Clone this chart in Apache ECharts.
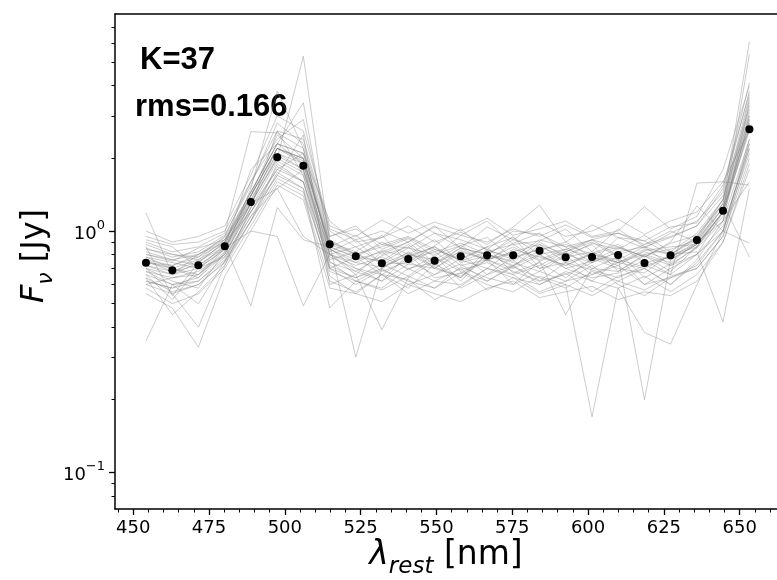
<!DOCTYPE html>
<html><head><meta charset="utf-8">
<script src="https://cdn.jsdelivr.net/npm/echarts@6/dist/echarts.min.js"></script>
<style>html,body{margin:0;padding:0;background:#fff}#c{width:777px;height:580px}</style>
</head><body><div id="c"></div>
<script>
const wavelengths = [454.2, 462.9, 471.5, 480.2, 488.8, 497.5, 506.1, 514.8, 523.4, 532.0, 540.7, 549.4, 558.0, 566.7, 575.3, 584.0, 592.6, 601.3, 609.9, 618.6, 627.2, 635.9, 644.5, 653.2];
const meanFlux = [0.739, 0.687, 0.721, 0.864, 1.32, 2.02, 1.865, 0.881, 0.786, 0.735, 0.766, 0.753, 0.786, 0.793, 0.793, 0.829, 0.778, 0.780, 0.795, 0.737, 0.793, 0.918, 1.214, 2.64];
const spectra = [
  [0.75,0.68,0.72,0.85,1.40,2.20,2.00,0.85,0.70,0.62,0.80,0.92,0.74,0.79,0.95,0.70,0.80,0.88,0.68,0.80,0.74,0.90,1.30,3.00],
  [0.62,0.58,0.66,0.80,1.25,2.60,1.70,0.70,0.78,0.66,0.58,0.73,0.64,0.84,0.76,0.62,0.66,0.74,0.82,0.64,0.73,0.85,1.10,3.40],
  [0.88,0.80,0.78,0.95,1.60,2.40,2.90,0.95,1.05,0.84,0.93,0.78,0.96,1.10,0.88,0.91,1.02,0.82,1.02,0.86,0.94,1.05,1.50,4.10],
  [1.19,0.66,0.80,0.90,1.20,1.80,2.10,1.10,0.90,0.94,1.15,0.98,0.85,1.04,0.92,1.09,0.95,1.00,1.12,0.97,1.10,1.20,1.60,2.60],
  [0.35,0.60,0.50,0.75,1.10,1.90,1.60,0.65,0.55,0.66,0.63,0.52,0.59,0.70,0.66,0.56,0.62,0.72,0.60,0.54,0.64,0.70,0.95,2.20],
  [0.70,0.62,0.58,0.82,1.50,3.80,2.20,0.80,0.66,0.82,0.69,0.79,0.62,0.81,0.71,0.88,0.74,0.62,0.76,0.86,0.72,0.80,1.20,2.90],
  [0.80,0.75,0.85,0.92,1.30,2.00,5.30,0.90,0.82,0.96,0.74,0.87,1.02,0.83,0.78,0.92,0.86,0.74,0.94,0.91,0.80,0.95,1.35,3.20],
  [0.66,0.52,0.70,0.78,1.15,1.50,1.80,0.75,0.62,0.70,0.80,0.64,0.67,0.76,0.60,0.75,0.45,0.70,0.78,0.60,0.70,0.80,1.00,2.40],
  [0.92,0.86,0.70,0.88,0.49,1.25,0.92,0.86,0.96,0.80,0.90,1.05,0.85,0.75,0.89,0.98,0.82,0.92,0.79,0.88,1.00,0.90,1.10,1.60],
  [0.78,0.70,0.64,0.85,1.00,0.95,0.49,0.80,0.68,0.79,0.86,0.70,0.81,0.66,0.78,0.84,0.70,0.75,0.85,0.79,0.68,0.86,1.20,2.80],
  [0.72,0.66,0.74,0.90,1.45,2.30,1.90,0.88,0.30,0.70,0.82,0.71,0.64,0.80,0.74,0.68,0.79,0.66,0.74,0.82,0.76,0.88,1.25,3.50],
  [0.68,0.60,0.62,0.76,1.20,1.70,2.50,0.60,0.66,0.39,0.64,0.75,0.58,0.66,0.72,0.60,0.67,0.56,0.65,0.70,0.60,0.74,1.00,2.10],
  [0.85,0.78,0.82,0.96,1.55,2.80,2.30,1.00,0.86,0.94,1.05,0.90,0.99,0.88,1.04,1.28,0.90,1.06,0.94,0.85,0.98,1.10,1.45,3.80],
  [0.58,0.50,0.55,0.70,1.05,1.60,1.40,0.62,0.56,0.66,0.55,0.62,0.70,0.57,0.64,0.55,0.60,0.17,0.58,0.65,0.56,0.66,0.90,1.90],
  [0.75,0.70,0.76,0.88,1.35,2.10,1.80,0.82,0.92,0.73,0.81,0.70,0.83,0.76,0.86,0.75,0.82,0.90,0.78,0.20,0.76,0.88,1.20,2.70],
  [0.64,0.56,0.60,0.74,1.10,1.75,1.50,0.68,0.62,0.58,0.70,0.62,0.60,0.70,0.64,0.60,0.68,0.62,0.58,0.38,0.34,0.60,1.00,2.30],
  [1.00,0.90,0.95,1.05,1.70,3.00,2.60,1.05,0.95,1.11,0.98,1.09,1.00,1.13,0.96,1.02,1.10,0.95,1.00,1.26,1.02,1.15,1.80,4.00],
  [0.70,0.55,0.40,0.72,1.25,1.95,1.70,0.76,0.82,0.68,0.75,0.66,0.77,0.86,0.67,0.74,0.64,0.77,0.70,0.67,0.80,0.82,0.42,1.50],
  [0.60,0.64,0.68,0.80,1.30,2.20,1.90,0.70,0.64,0.73,0.65,0.78,0.68,0.62,0.72,0.80,0.70,0.64,0.67,0.76,0.66,1.58,1.60,1.55],
  [0.82,0.76,0.72,0.86,1.40,2.50,2.00,0.86,0.78,0.90,0.80,0.76,0.87,0.94,0.77,0.84,0.88,0.80,0.86,0.78,0.90,1.27,1.00,0.89],
  [0.55,0.48,0.33,0.65,1.00,1.55,1.35,0.58,0.55,0.51,0.60,0.55,0.51,0.58,0.62,0.53,0.56,0.59,0.52,0.56,0.54,0.62,0.90,1.80],
  [0.74,0.72,0.80,0.92,1.45,2.30,2.10,0.92,0.80,0.88,0.95,0.84,0.76,0.86,0.94,0.80,0.84,0.92,0.86,0.78,0.89,0.96,1.30,6.10],
  [0.68,0.64,0.66,0.82,1.30,2.00,1.75,0.78,0.70,0.66,0.77,0.82,0.69,0.74,0.66,0.72,0.82,0.70,0.68,0.79,0.72,0.86,1.20,5.40],
  [0.90,0.82,0.86,0.98,2.58,2.55,2.20,0.95,1.02,0.88,0.85,0.98,0.92,0.84,1.00,0.97,0.86,0.92,0.98,0.88,0.95,1.05,1.40,3.30],
  [0.62,0.58,0.62,0.78,1.20,1.85,1.60,0.72,0.64,0.70,0.60,0.66,0.73,0.62,0.71,0.64,0.58,0.68,0.62,0.70,0.60,0.76,1.10,2.40],
  [0.78,0.74,0.70,0.84,1.35,2.10,1.90,0.80,0.86,0.74,0.73,0.84,0.76,0.70,0.84,0.78,0.72,0.81,0.88,0.74,0.78,0.90,1.25,3.00],
  [0.72,0.68,0.75,0.86,1.80,2.30,3.40,0.84,0.76,0.82,0.90,0.74,0.85,0.80,0.72,0.83,0.90,0.78,0.74,0.84,0.80,0.92,1.35,3.60],
  [0.66,0.60,0.64,0.80,1.25,1.80,1.60,0.74,0.68,0.62,0.73,0.70,0.65,0.76,0.68,0.62,0.74,0.69,0.64,0.72,0.66,0.80,1.05,2.20],
  [0.84,0.80,0.76,0.92,1.40,2.20,1.95,0.90,0.80,0.86,0.94,0.82,0.89,0.80,0.92,0.86,0.78,0.89,0.84,0.96,0.82,0.98,1.35,3.10],
  [0.60,0.55,0.60,0.75,1.15,1.70,1.50,0.48,0.62,0.57,0.65,0.58,0.67,0.60,0.56,0.65,0.60,0.54,0.62,0.57,0.65,0.70,0.95,2.00],
  [0.95,0.88,0.90,1.00,1.60,2.60,2.40,1.02,0.92,1.00,0.90,1.04,0.96,0.90,1.02,0.95,1.06,0.94,0.98,0.91,1.04,1.08,1.55,3.70],
  [0.70,0.66,0.70,0.84,1.30,2.05,1.80,0.80,0.72,0.78,0.70,0.74,0.82,0.76,0.70,0.79,0.72,0.80,0.74,0.70,0.79,0.86,1.15,2.70],
  [0.76,0.72,0.78,0.90,1.40,2.20,2.00,0.84,0.74,0.83,0.78,0.86,0.75,0.82,0.88,0.76,0.84,0.78,0.72,0.83,0.86,0.88,1.20,2.90],
  [0.64,0.45,0.56,0.72,1.10,1.65,1.45,0.70,0.60,0.69,0.62,0.58,0.71,0.64,0.60,0.68,0.62,0.66,0.72,0.60,0.64,0.72,1.00,2.30],
  [0.80,0.76,0.80,0.94,1.45,2.30,2.10,0.88,0.80,0.74,0.85,0.80,0.87,0.76,0.82,0.88,0.80,0.74,0.82,0.86,0.80,0.94,1.30,0.78],
  [0.74,0.70,0.66,0.86,1.30,1.50,0.95,0.80,0.74,0.71,0.79,0.86,0.72,0.76,0.81,0.70,0.74,0.80,0.76,0.71,0.79,0.88,1.20,2.60],
  [0.86,0.54,0.74,0.90,1.40,2.20,2.00,0.86,0.78,0.75,0.88,0.72,0.85,0.80,0.75,0.90,0.78,0.82,0.74,0.80,0.84,0.92,1.25,2.80]
];
const xMajorTicks = [450, 475, 500, 525, 550, 575, 600, 625, 650];
const xMinorTicks = [445, 455, 460, 465, 470, 480, 485, 490, 495, 505, 510, 515, 520, 530, 535, 540, 545, 555, 560, 565, 570, 580, 585, 590, 595, 605, 610, 615, 620, 630, 635, 640, 645, 655, 660];
const yMajorTicks = [0.1, 1];
const yMinorTicks = [0.08, 0.09, 0.2, 0.3, 0.4, 0.5, 0.6, 0.7, 0.8, 0.9, 2, 3, 4, 5, 6, 7];
const annotationLines = ['K=37', 'rms=0.166'];

const xMin = 444, xMax = 662.3, yMin = 0.0705, yMax = 7.93;
const lg = v => Math.log10(v);
const axisColor = '#000';
const tickFont = 'DejaVu Sans';

const chart = echarts.init(document.getElementById('c'), null, {renderer: 'canvas'});
const series = spectra.map(s => ({
  type: 'line', xAxisIndex: 0, yAxisIndex: 0,
  data: s.map((v, i) => [wavelengths[i], v]),
  symbol: 'none', showSymbol: false, silent: true,
  lineStyle: {color: 'rgba(128,128,128,0.4)', width: 1}
}));
series.push({
  type: 'scatter', xAxisIndex: 0, yAxisIndex: 0, z: 10,
  data: meanFlux.map((v, i) => [wavelengths[i], v]),
  symbol: 'circle', symbolSize: 8, itemStyle: {color: '#000', opacity: 1}, silent: true
});

chart.setOption({
  animation: false,
  backgroundColor: '#fff',
  grid: {left: 115, right: 0, top: 14, bottom: 71, containLabel: false},
  xAxis: [
    {type: 'value', min: xMin, max: xMax, position: 'bottom',
     axisLine: {show: true, onZero: false, lineStyle: {color: axisColor, width: 1.5}},
     axisTick: {show: true, customValues: xMajorTicks, length: 6, lineStyle: {color: axisColor, width: 1.3}},
     axisLabel: {show: true, customValues: xMajorTicks, fontFamily: tickFont, fontSize: 18, color: '#000', margin: 10},
     splitLine: {show: false}},
    {type: 'value', min: xMin, max: xMax, position: 'bottom',
     axisLine: {show: false, onZero: false},
     axisTick: {show: true, customValues: xMinorTicks, length: 3.5, lineStyle: {color: axisColor, width: 1}},
     axisLabel: {show: false}, splitLine: {show: false}},
    {type: 'value', min: xMin, max: xMax, position: 'top',
     axisLine: {show: true, onZero: false, lineStyle: {color: axisColor, width: 1.5}},
     axisTick: {show: false}, axisLabel: {show: false}, splitLine: {show: false}}
  ],
  yAxis: [
    {type: 'log', min: yMin, max: yMax, position: 'left', logBase: 10,
     axisLine: {show: true, onZero: false, lineStyle: {color: axisColor, width: 1.5}},
     axisTick: {show: false}, axisLabel: {show: false}, splitLine: {show: false}, minorTick: {show: false}},
    {type: 'value', min: lg(yMin), max: lg(yMax), position: 'left',
     axisLine: {show: false, onZero: false},
     axisTick: {show: true, customValues: yMajorTicks.map(lg), length: 6, lineStyle: {color: axisColor, width: 1.3}},
     axisLabel: {show: true, customValues: yMajorTicks.map(lg), margin: 10, color: '#000',
       formatter: v => '{b|10}{s|' + String(Math.round(v)).replace('-', '\u2212') + '}',
       rich: {b: {fontFamily: tickFont, fontSize: 18, lineHeight: 24, verticalAlign: 'bottom'},
              s: {fontFamily: tickFont, fontSize: 13, lineHeight: 24, verticalAlign: 'top', padding: [0, 0, 10, 0]}}},
     splitLine: {show: false}},
    {type: 'value', min: lg(yMin), max: lg(yMax), position: 'left',
     axisLine: {show: false, onZero: false},
     axisTick: {show: true, customValues: yMinorTicks.map(lg), length: 3.5, lineStyle: {color: axisColor, width: 1}},
     axisLabel: {show: false}, splitLine: {show: false}}
  ],
  series: series,
  graphic: [
    {type: 'text', x: 140, y: 45, style: {text: annotationLines[0], font: 'bold 31px "Liberation Sans", Arial, sans-serif', fill: '#000'}},
    {type: 'text', x: 135, y: 92, style: {text: annotationLines[1], font: 'bold 31px "Liberation Sans", Arial, sans-serif', fill: '#000'}},
    {type: 'text', x: 446, y: 559, style: {
      text: '{l|\u03bb}{r|rest}{n| [nm]}', align: 'center', verticalAlign: 'middle',
      rich: {l: {fontFamily: 'DejaVu Sans', fontStyle: 'italic', fontSize: 33, lineHeight: 40, verticalAlign: 'top'},
             r: {fontFamily: 'DejaVu Sans', fontStyle: 'italic', fontSize: 23, lineHeight: 15, verticalAlign: 'bottom'},
             n: {fontFamily: 'DejaVu Sans', fontSize: 33, lineHeight: 40, verticalAlign: 'top'}}}},
    {type: 'text', x: 38, y: 256, rotation: Math.PI / 2, style: {
      text: '{f|F}{v|\u03bd}{n| [Jy]}', align: 'center', verticalAlign: 'middle',
      rich: {f: {fontFamily: 'DejaVu Sans', fontStyle: 'italic', fontSize: 32, lineHeight: 38, verticalAlign: 'top'},
             v: {fontFamily: 'DejaVu Sans', fontStyle: 'italic', fontSize: 22, lineHeight: 15, verticalAlign: 'bottom'},
             n: {fontFamily: 'DejaVu Sans', fontSize: 32, lineHeight: 38, verticalAlign: 'top'}}}}
  ]
});
</script></body></html>
